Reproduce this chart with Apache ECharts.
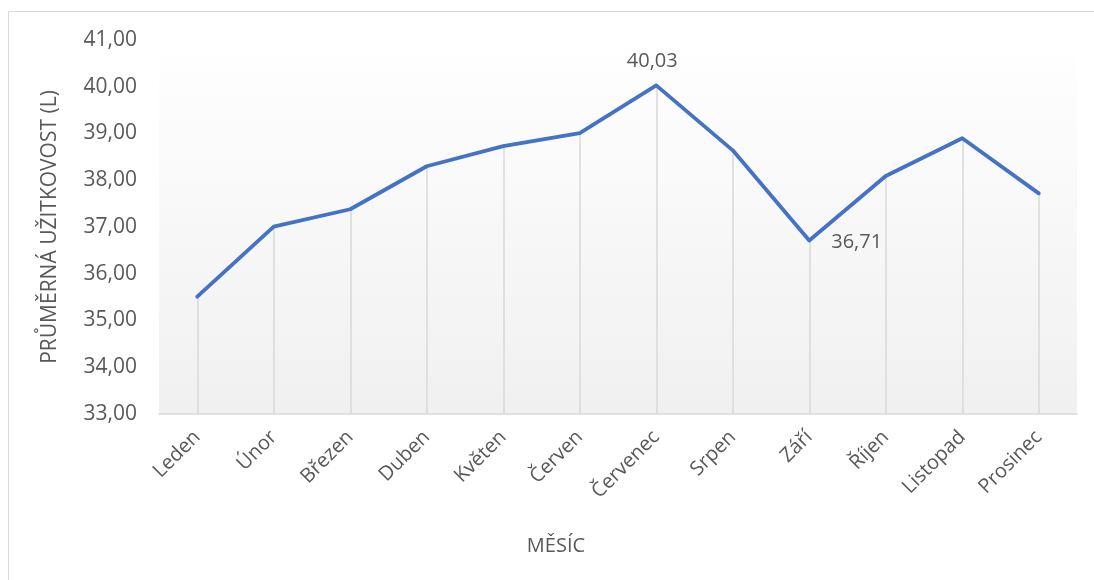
<!DOCTYPE html>
<html>
<head>
<meta charset="utf-8">
<script src="https://cdn.jsdelivr.net/npm/echarts@6/dist/echarts.min.js"></script>
<style>
html,body{margin:0;padding:0;background:#fff;}
#chart{width:1094px;height:580px;}
</style>
</head>
<body>
<div id="chart"></div>
<script>
const categories = ['Leden','Únor','Březen','Duben','Květen','Červen','Červenec','Srpen','Září','Říjen','Listopad','Prosinec'];
const values = [35.51, 37.01, 37.38, 38.30, 38.73, 39.01, 40.03, 38.64, 36.71, 38.09, 38.90, 37.72];
const labeledMonths = ['Červenec', 'Září'];
const yMin = 33, yMax = 41, yStep = 1;
const yTitle = 'PRŮMĚRNÁ UŽITKOVOST (L)';
const xTitle = 'MĚSÍC';

const fmt = v => v.toFixed(2).replace('.', ',');
const txt = '#595959';
const font = "'Open Sans', 'Noto Sans', sans-serif";

const dropLines = categories.map((c, i) => [
  { coord: [c, yMin] },
  { coord: [c, values[i]] }
]);

const seriesData = values.map((v, i) => {
  const c = categories[i];
  if (!labeledMonths.includes(c)) return v;
  const pos = c === 'Září' ? 'right' : 'top';
  return {
    value: v,
    label: {
      show: true, position: pos, distance: pos === 'top' ? 14 : 22,
      formatter: p => fmt(p.value), color: txt, fontSize: 20, fontFamily: font,
      offset: pos === 'right' ? [0, 2] : [-4, 0]
    }
  };
});

const chart = echarts.init(document.getElementById('chart'));
chart.setOption({
  animation: false,
  backgroundColor: '#fff',
  graphic: [{
    type: 'rect', shape: { x: 8.5, y: 11.5, width: 1200, height: 700 },
    style: { fill: 'none', stroke: '#d9d9d9', lineWidth: 1 }, silent: true, z: -10
  }],
  grid: {
    left: 159, right: 17, top: 40, bottom: 166,
    show: true, borderWidth: 0,
    backgroundColor: new echarts.graphic.LinearGradient(0, 0, 0, 1, [
      { offset: 0, color: '#ffffff' },
      { offset: 1, color: '#f0f0f0' }
    ])
  },
  xAxis: {
    type: 'category', data: categories, boundaryGap: true,
    axisLine: { show: true, lineStyle: { color: '#d9d9d9', width: 1.5 } },
    axisTick: { show: false },
    axisLabel: { rotate: 45, color: txt, fontSize: 20, fontFamily: font, margin: 20, interval: 0 },
    name: xTitle, nameLocation: 'middle', nameGap: 122,
    nameTextStyle: { color: txt, fontSize: 20, fontFamily: font, padding: [0, 124, 0, 0] }
  },
  yAxis: {
    type: 'value', min: yMin, max: yMax, interval: yStep,
    axisLine: { show: false }, axisTick: { show: false },
    splitLine: { show: false },
    axisLabel: { formatter: fmt, color: txt, fontSize: 21, fontFamily: font, margin: 22 },
    name: yTitle, nameLocation: 'middle', nameGap: 98,
    nameTextStyle: { color: txt, fontSize: 21, fontFamily: font }
  },
  series: [{
    type: 'line', data: seriesData, showSymbol: true, symbol: 'circle', symbolSize: 0,
    lineStyle: { color: '#4472C4', width: 3.8, join: 'round', cap: 'round' },
    itemStyle: { color: '#4472C4' },
    z: 5,
    markLine: {
      silent: true, symbol: 'none', label: { show: false },
      lineStyle: { color: '#d9d9d9', width: 1.5, type: 'solid' },
      data: dropLines, z: 1
    }
  }]
});
</script>
</body>
</html>
